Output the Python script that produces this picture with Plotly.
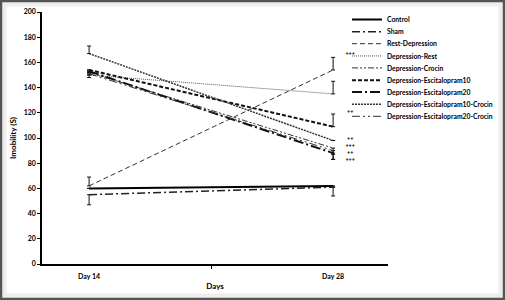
import plotly.graph_objects as go

days = ["Day 14", "Day 28"]
series_names = ["Control", "Sham", "Rest-Depression", "Depression-Rest", "Depression-Crocin",
                "Depression-Escitalopram10", "Depression-Escitalopram20",
                "Depression-Escitalopram10-Crocin", "Depression-Escitalopram20-Crocin"]
control = [60, 62]
sham = [55, 61]
rest_depression = [62, 154]
depression_rest = [150, 135]
depression_crocin = [152, 92]
esc10 = [154, 109]
esc20 = [153, 88]
esc10_crocin = [167, 98]
esc20_crocin = [151, 90]
values = [control, sham, rest_depression, depression_rest, depression_crocin,
          esc10, esc20, esc10_crocin, esc20_crocin]

err_plus = [[0, 0], [0, 0], [7, 10], [0, 10], [0, 0], [0, 10], [0, 0], [6, 0], [0, 0]]
err_minus = [[0, 8], [8, 0], [0, 0], [0, 0], [0, 5], [0, 0], [0, 5], [0, 0], [3, 7]]

sig_labels = ["+++", "++", "++", "+++", "++", "+++"]
sig_y = [167, 121, 99.5, 94, 88.5, 82.7]
sig_x = 1.07

styles = [
    dict(width=2, dash="solid", color="#000"),
    dict(width=1.5, dash="8px,3px,2px,3px", color="#222"),
    dict(width=1, dash="5px,3px", color="#333"),
    dict(width=1, dash="1px,1px", color="#555"),
    dict(width=1, dash="6px,2px,2px,2px,2px,2px", color="#333"),
    dict(width=2, dash="4px,2px", color="#111"),
    dict(width=2, dash="10px,3px,2px,3px", color="#111"),
    dict(width=1.5, dash="2px,1px", color="#333"),
    dict(width=1, dash="8px,3px,2px,3px,2px,3px", color="#333"),
]

W, H = 505, 300
ml, mr, mt, mb = 42, 117, 12, 36
pw, ph = W - ml - mr, H - mt - mb

xpos = [0, 1]
fig = go.Figure()
for i, (name, vals, st, ep, em) in enumerate(zip(series_names, values, styles, err_plus, err_minus)):
    fig.add_trace(go.Scatter(
        x=xpos, y=vals, name=name, mode="lines", line=st,
        legend="legend" if i % 2 == 0 else "legend2", legendgroup=f"g{i}",
        error_y=dict(type="data", array=ep, arrayminus=em, symmetric=False,
                     color="#111", thickness=1, width=2),
    ))

fig.add_trace(go.Scatter(
    x=[sig_x] * len(sig_y), y=sig_y, mode="text", text=sig_labels, showlegend=False,
    textfont=dict(family="Lato", size=5.5, color="black", weight="bold"), hoverinfo="skip",
))

fig.add_shape(type="rect", xref="paper", yref="paper",
              x0=-(ml - 4) / pw, x1=1 + (mr - 4) / pw, y0=-(mb - 4) / ph, y1=1 + (mt - 4) / ph,
              line=dict(color="#eeeeee", width=5), layer="below")
fig.add_shape(type="rect", xref="paper", yref="paper",
              x0=-(ml - 1) / pw, x1=1 + (mr - 1) / pw, y0=-(mb - 1) / ph, y1=1 + (mt - 1) / ph,
              line=dict(color="#555555", width=2.5), layer="below")

leg_x = (347 - ml) / pw
leg_top = 1 + 7 / ph
leg_common = dict(x=leg_x, xanchor="left", yanchor="top",
                  font=dict(family="Lato", size=6.8, color="#000", weight="bold"),
                  tracegroupgap=5.2, itemwidth=30, bgcolor="rgba(0,0,0,0)",
                  borderwidth=0)

fig.update_layout(
    width=W, height=H,
    margin=dict(l=ml, r=mr, t=mt, b=mb, autoexpand=False),
    paper_bgcolor="white", plot_bgcolor="white",
    font=dict(family="Lato", color="#000"),
    showlegend=True,
    legend=dict(y=leg_top, **leg_common),
    legend2=dict(y=leg_top - 12.25 / ph, **leg_common),
    xaxis=dict(range=[-0.193, 1.225], tickvals=xpos, ticktext=[f"<b>{d}</b>" for d in days],
               ticks="", showgrid=False, zeroline=False, showline=True, linecolor="#000", linewidth=1.5,
               tickfont=dict(family="Lato", size=7), ticklabelstandoff=5,
               minor=dict(tickvals=[0.5], ticks="outside", ticklen=3, tickcolor="#000"),
               title=dict(text="<b>Days</b>", font=dict(family="Lato", size=8), standoff=4)),
    yaxis=dict(range=[0, 200], dtick=20, ticks="outside", ticklen=3, tickcolor="#000",
               showgrid=False, zeroline=False, showline=True, linecolor="#000", linewidth=1.5,
               tickfont=dict(family="Lato", size=7, weight="bold"),
               title=dict(text="<b>Imobility (S)</b>", font=dict(family="Lato", size=8), standoff=6)),
)

fig.write_html("out.html", config={"displayModeBar": False},
               post_script="document.body.style.margin='0';")
